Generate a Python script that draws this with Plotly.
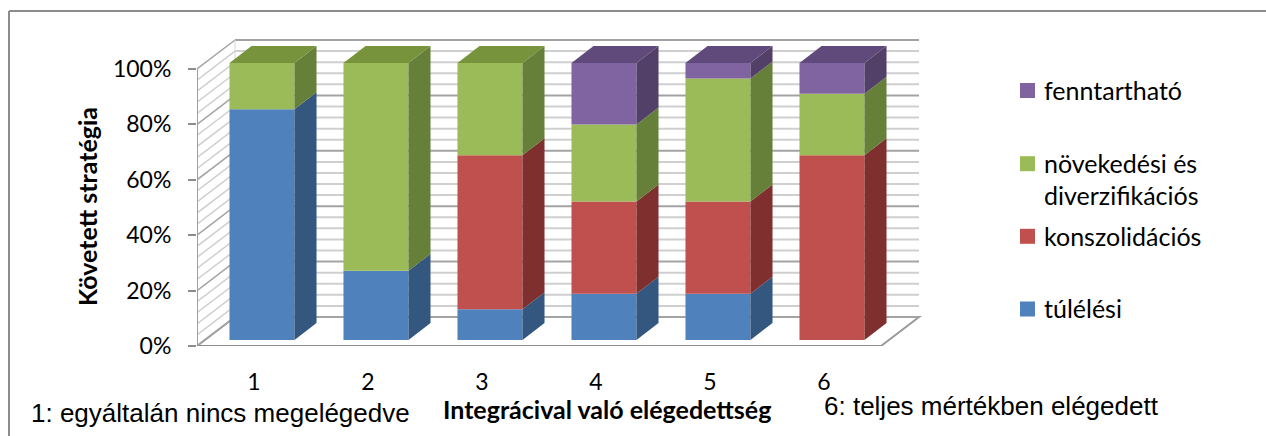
import plotly.graph_objects as go

# --- data (percent of respondents per satisfaction level) ---
categories = [1, 2, 3, 4, 5, 6]
tick_labels = ["1", "2", "3", "4", "5", "6"]
series_names = ["túlélési", "konszolidációs", "növekedési és diverzifikációs", "fenntartható"]
tulelesi = [83.3, 25.0, 11.1, 16.7, 16.7, 0.0]
konszolidacios = [0.0, 0.0, 55.6, 33.3, 33.3, 66.7]
novekedesi = [16.7, 75.0, 33.3, 27.8, 44.4, 22.2]
fenntarthato = [0.0, 0.0, 0.0, 22.2, 5.6, 11.1]
y_ticks = [0, 20, 40, 60, 80, 100]

series = [tulelesi, konszolidacios, novekedesi, fenntarthato]
front_cols = ["#4F81BD", "#C0504D", "#9BBB59", "#8064A2"]
side_cols = ["#34577F", "#7F302E", "#66803A", "#524068"]
top_cols = ["#3E6698", "#9A3D3B", "#77933C", "#604A7B"]

# --- pseudo-3D geometry (data units) ---
PX_X, PX_Y = 114.0, 2.77          # pixels per category / per percent
DX, DY = 38 / PX_X, 29 / PX_Y      # depth vector of the chart box
F0, F1 = 0.21, 0.79                # bar front / back depth fractions
BW = 65 / PX_X                     # bar width
X0, X1 = categories[0] - 0.5, categories[-1] + 0.5

L, T, W, H = 197, 36, 730, 310
FIG_W, FIG_H = 1266, 436


def px(x):
    return (x - L) / W


def py(y):
    return (T + H - y) / H


fig = go.Figure()

# front faces of the stacked columns
cum = [0.0] * len(categories)
for name, vals, col in zip(series_names, series, front_cols):
    fig.add_trace(go.Bar(
        x=[c + F0 * DX for c in categories], y=vals,
        base=[F0 * DY + b for b in cum], width=BW,
        marker=dict(color=col, line=dict(width=0)),
        name=name, showlegend=False,
    ))
    cum = [b + v for b, v in zip(cum, vals)]

# side faces
ddx, ddy = (F1 - F0) * DX, (F1 - F0) * DY
cum = [0.0] * len(categories)
for vals, col in zip(series, side_cols):
    xs, ys = [], []
    for c, b, v in zip(categories, cum, vals):
        if v <= 0:
            continue
        xr = c + F0 * DX + BW / 2
        y0 = F0 * DY + b
        y1 = y0 + v
        xs += [xr, xr + ddx, xr + ddx, xr, xr, None]
        ys += [y0, y0 + ddy, y1 + ddy, y1, y0, None]
    cum = [b + v for b, v in zip(cum, vals)]
    if xs:
        fig.add_trace(go.Scatter(x=xs, y=ys, mode="lines", fill="toself",
                                 fillcolor=col, line=dict(width=0, color=col),
                                 hoverinfo="skip", showlegend=False))

# top faces, coloured after the uppermost segment
for i, c in enumerate(categories):
    vals = [s[i] for s in series]
    total = sum(vals)
    k = max(j for j, v in enumerate(vals) if v > 0)
    xl = c + F0 * DX - BW / 2
    xr = xl + BW
    yt = F0 * DY + total
    fig.add_trace(go.Scatter(
        x=[xl, xr, xr + ddx, xl + ddx, xl],
        y=[yt, yt, yt + ddy, yt + ddy, yt],
        mode="lines", fill="toself", fillcolor=top_cols[k],
        line=dict(width=0, color=top_cols[k]),
        hoverinfo="skip", showlegend=False))

# chart box: floor, back wall and side wall
shapes = []
shapes.append(dict(type="path", xref="x", yref="y", layer="below",
                   path=f"M {X0},0 L {X1},0 L {X1 + DX},{DY} L {X0 + DX},{DY} Z",
                   fillcolor="white", line=dict(color="#9a9a9a", width=2)))
for p in range(0, 101, 4):
    major = p % 20 == 0
    col = "#a3a3a3" if major else "#cfcfcf"
    shapes.append(dict(type="line", xref="x", yref="y", layer="below",
                       x0=X0 + DX, x1=X1 + DX, y0=p + DY, y1=p + DY,
                       line=dict(color=col, width=2)))
    shapes.append(dict(type="line", xref="x", yref="y", layer="below",
                       x0=X0, x1=X0 + DX, y0=p, y1=p + DY,
                       line=dict(color=col, width=1.5)))
shapes.append(dict(type="line", xref="x", yref="y", layer="below",
                   x0=X0, x1=X0, y0=0, y1=100, line=dict(color="#a0a0a0", width=2)))
shapes.append(dict(type="line", xref="x", yref="y", layer="below",
                   x0=X0 + DX, x1=X0 + DX, y0=DY, y1=100 + DY,
                   line=dict(color="#d6d6d6", width=1)))
shapes.append(dict(type="line", xref="x", yref="y", layer="below",
                   x0=X0, x1=X1, y0=0, y1=0, line=dict(color="#8c8c8c", width=2)))

# outer chart border (top and left edges)
shapes.append(dict(type="line", xref="paper", yref="paper",
                   x0=px(9), x1=px(FIG_W + 5), y0=py(11), y1=py(11),
                   line=dict(color="#8c8c8c", width=2)))
shapes.append(dict(type="line", xref="paper", yref="paper",
                   x0=px(9), x1=px(9), y0=py(11), y1=py(FIG_H + 5),
                   line=dict(color="#8c8c8c", width=2)))

# legend (top to bottom: fenntartható ... túlélési)
legend_rows = [
    (3, 90.5, ["fenntartható"], [90]),
    (2, 163.7, ["növekedési és", "diverzifikációs"], [163, 195]),
    (1, 236.3, ["konszolidációs"], [236]),
    (0, 309.0, ["túlélési"], [308]),
]
annotations = []
for idx, cy, lines, ys in legend_rows:
    shapes.append(dict(type="rect", xref="paper", yref="paper",
                       x0=px(1020), x1=px(1035), y0=py(cy - 7.5), y1=py(cy + 7.5),
                       fillcolor=front_cols[idx], line=dict(width=0)))
    for txt, ty in zip(lines, ys):
        annotations.append(dict(xref="paper", yref="paper", x=px(1042), y=py(ty),
                                xanchor="left", yanchor="middle", showarrow=False,
                                text=txt, font=dict(family="Lato", size=25, color="#000")))

annotations.append(dict(xref="paper", yref="paper", x=px(87), y=py(207),
                        text="<b>Követett stratégia</b>", textangle=-90, showarrow=False,
                        xanchor="center", yanchor="middle",
                        font=dict(family="Lato", size=25, color="#000")))
annotations.append(dict(xref="paper", yref="paper", x=px(607), y=py(409),
                        text="<b>Integrácival való elégedettség</b>", showarrow=False,
                        xanchor="center", yanchor="middle",
                        font=dict(family="Lato", size=25, color="#000")))
annotations.append(dict(xref="paper", yref="paper", x=px(29), y=py(413),
                        text="1: egyáltalán nincs megelégedve", showarrow=False,
                        xanchor="left", yanchor="middle",
                        font=dict(family="Liberation Sans", size=26, color="#000")))
annotations.append(dict(xref="paper", yref="paper", x=px(822), y=py(406),
                        text="6: teljes mértékben elégedett", showarrow=False,
                        xanchor="left", yanchor="middle",
                        font=dict(family="Liberation Sans", size=26, color="#000")))

fig.update_layout(
    width=FIG_W, height=FIG_H,
    margin=dict(l=L, r=FIG_W - L - W, t=T, b=FIG_H - T - H, pad=0),
    paper_bgcolor="white", plot_bgcolor="white",
    barmode="overlay", showlegend=False,
    shapes=shapes, annotations=annotations,
    xaxis=dict(range=[X0, X0 + W / PX_X], tickvals=categories, ticktext=tick_labels,
               showgrid=False, zeroline=False, showline=False,
               ticks="outside", ticklen=0, ticklabelstandoff=15,
               tickfont=dict(family="Lato", size=23, color="#000"), fixedrange=True),
    yaxis=dict(range=[0, H / PX_Y], tickvals=y_ticks,
               ticktext=[f"{v}%" for v in y_ticks],
               showgrid=False, zeroline=False, showline=False,
               ticks="outside", ticklen=8, tickwidth=1.5, tickcolor="#8c8c8c",
               ticklabelstandoff=12,
               tickfont=dict(family="Lato", size=23, color="#000"), fixedrange=True),
)

fig.write_html("out.html")
